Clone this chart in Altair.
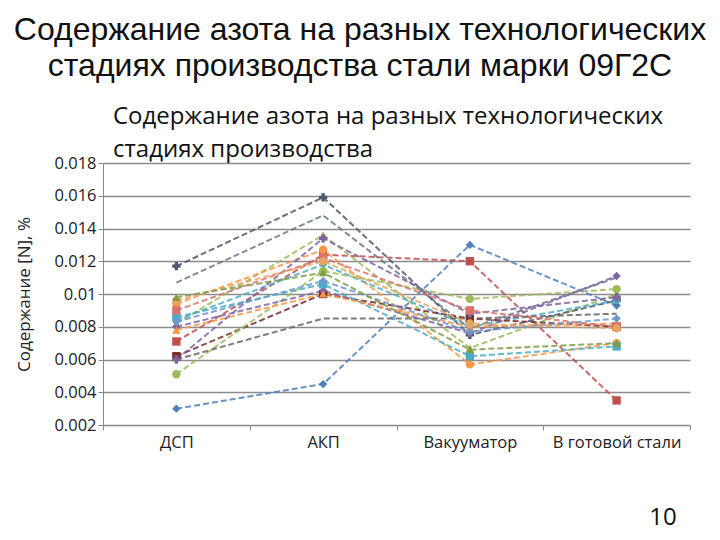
import altair as alt
import pandas as pd

stages = ["ДСП", "АКП", "Вакууматор", "В готовой стали"]

# nitrogen content, % (one list per melt, values at the four stages)
s01 = [0.0030, 0.0045, 0.0130, 0.0093]
s02 = [0.0071, 0.0124, 0.0120, 0.0035]
s03 = [0.0082, 0.0136, 0.0067, 0.0100]
s04 = [0.0107, 0.0148, 0.0079, 0.0110]
s05 = [0.0117, 0.0159, 0.0075, 0.0096]
s06 = [0.0094, 0.0127, 0.0057, 0.0070]
s07 = [0.0084, 0.0118, 0.0080, 0.0096]
s08 = [0.0062, 0.0100, 0.0085, 0.0080]
s09 = [0.0051, 0.0114, 0.0097, 0.0103]
s10 = [0.0080, 0.0102, 0.0076, 0.0111]
s11 = [0.0086, 0.0106, 0.0062, 0.0068]
s12 = [0.0078, 0.0100, 0.0080, 0.0082]
s13 = [0.0060, 0.0134, 0.0088, 0.0098]
s14 = [0.0060, 0.0085, 0.0085, 0.0088]
s15 = [0.0090, 0.0122, 0.0090, 0.0080]
s16 = [0.0083, 0.0108, 0.0077, 0.0085]
s17 = [0.0096, 0.0120, 0.0082, 0.0079]
s18 = [0.0098, 0.0113, 0.0066, 0.0070]

y_ticks = [0.002, 0.004, 0.006, 0.008, 0.010, 0.012, 0.014, 0.016, 0.018]

series = [s01, s02, s03, s04, s05, s06, s07, s08, s09,
          s10, s11, s12, s13, s14, s15, s16, s17, s18]
names = [f"Плавка {i+1}" for i in range(len(series))]

colors = ["#4F81BD", "#C0504D", "#9BBB59", "#6B7389", "#4E5670", "#F79646",
          "#4BACC6", "#772C2A", "#9BBB59", "#8064A2", "#4BACC6", "#F79646",
          "#8064A2", "#666666", "#D9726F", "#6F97C9", "#E9A465", "#7E9C45"]
shapes = ["diamond", "square", "triangle-up", "stroke", "cross", "circle",
          "diamond", "square", "circle", "diamond", "square", "triangle-up",
          "cross", "stroke", "square", "diamond", "circle", "triangle-up"]

rows = []
for n, vals in zip(names, series):
    for st, v in zip(stages, vals):
        rows.append({"series": n, "stage": st, "value": v})
df = pd.DataFrame(rows)

W, H = 587, 262
FONT = "Open Sans"

x_enc = alt.X("stage:N", sort=stages,
              scale=alt.Scale(domain=stages, paddingInner=0, paddingOuter=0),
              axis=alt.Axis(title=None, tickBand="extent", labelAngle=0,
                            labelFont=FONT, labelFontSize=16.5,
                            labelColor="#222222", labelPadding=4,
                            tickSize=5, tickColor="#888888",
                            domainColor="#888888", grid=False))
y_enc = alt.Y("value:Q",
              scale=alt.Scale(domain=[0.002, 0.018], nice=False, zero=False),
              axis=alt.Axis(title="Содержание [N], %",
                            values=y_ticks, tickCount=9,
                            format=".3~f", labelFont=FONT, labelFontSize=16.5,
                            labelOverlap=False, labelFlush=False,
                            labelColor="#222222", titleFont=FONT,
                            titleFontSize=17, titleFontWeight="normal",
                            titleColor="#222222", titlePadding=20,
                            tickSize=5, tickColor="#888888", domainColor="#888888",
                            gridColor="#8c8c8c", gridWidth=1.3, labelPadding=2))
col = alt.Color("series:N", scale=alt.Scale(domain=names, range=colors), legend=None)
shp = alt.Shape("series:N", scale=alt.Scale(domain=names, range=shapes), legend=None)

base = alt.Chart(df).encode(x=x_enc, y=y_enc, color=col)
lines = base.mark_line(strokeDash=[6, 3], strokeWidth=2, opacity=0.85).encode(detail="series:N")
points = base.mark_point(filled=True, size=70, opacity=1).encode(shape=shp)

def label(txt, x, y, size, font=FONT, align="left"):
    return alt.Chart(pd.DataFrame({"t": [txt]})).mark_text(
        align=align, baseline="middle", font=font, fontSize=size, color="#111111"
    ).encode(x=alt.value(x), y=alt.value(y), text="t:N")

inner_title = label("Содержание азота на разных технологических", 10, -46, 24)
inner_title2 = label("стадиях производства", 10, -13, 24)
slide1 = label("Содержание азота на разных технологических", 360 - 103, 30 - 163, 32,
               font="Liberation Sans", align="center")
slide2 = label("стадиях производства стали марки 09Г2С", 360 - 103, 66 - 163, 32,
               font="Liberation Sans", align="center")
pagenum = label("10", 663 - 103, 518 - 163, 24, align="center")

chart = alt.layer(lines, points, inner_title, inner_title2, slide1, slide2, pagenum).properties(
    width=W, height=H,
    padding={"left": 103, "top": 163, "right": 30, "bottom": 115},
    autosize=alt.AutoSizeParams(type="none"),
    background="white",
).configure_view(stroke=None)

chart.save("out.html", embed_options={"renderer": "svg", "actions": False})
